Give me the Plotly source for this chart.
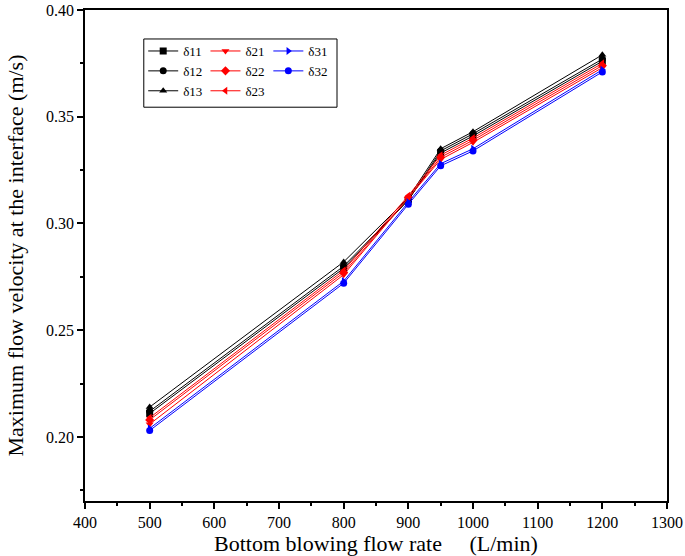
import plotly.graph_objects as go

flow = [500, 800, 900, 950, 1000, 1200]
d11 = [0.211, 0.279, 0.311, 0.333, 0.341, 0.376]
d12 = [0.212, 0.280, 0.311, 0.334, 0.342, 0.377]
d13 = [0.214, 0.282, 0.312, 0.335, 0.343, 0.379]
d21 = [0.206, 0.276, 0.312, 0.330, 0.338, 0.373]
d22 = [0.208, 0.277, 0.312, 0.331, 0.339, 0.374]
d23 = [0.209, 0.278, 0.313, 0.332, 0.340, 0.375]
d31 = [0.204, 0.273, 0.310, 0.328, 0.335, 0.372]
d32 = [0.203, 0.272, 0.309, 0.327, 0.334, 0.371]

series = [
    ("δ11", d11, "black", "square", "legend"),
    ("δ12", d12, "black", "circle", "legend"),
    ("δ13", d13, "black", "triangle-up", "legend"),
    ("δ21", d21, "red", "triangle-down", "legend2"),
    ("δ22", d22, "red", "diamond", "legend2"),
    ("δ23", d23, "red", "triangle-left", "legend2"),
    ("δ31", d31, "blue", "triangle-right", "legend3"),
    ("δ32", d32, "blue", "circle", "legend3"),
]

FONT = "Liberation Serif, Times New Roman, serif"
fig = go.Figure()
for name, ys, col, sym, lg in series:
    fig.add_trace(go.Scatter(
        x=flow, y=ys, name=name, mode="lines+markers",
        line=dict(color=col, width=1),
        marker=dict(symbol=sym, size=7, color=col),
        legend=lg,
    ))

leg_common = dict(font=dict(family=FONT, size=13, color="black"),
                  bgcolor="rgba(0,0,0,0)", tracegroupgap=0,
                  itemwidth=30, yanchor="top", xanchor="left")
fig.update_layout(
    width=685, height=556,
    margin=dict(l=85, r=18, t=10, b=55, autoexpand=False),
    paper_bgcolor="white", plot_bgcolor="white",
    font=dict(family=FONT, size=16, color="black"),
    legend=dict(x=0.1, y=0.947, **leg_common),
    legend2=dict(x=0.207, y=0.947, **leg_common),
    legend3=dict(x=0.315, y=0.947, **leg_common),
    xaxis=dict(
        title=dict(text="Bottom blowing flow rate\u3000 (L/min)", font=dict(family=FONT, size=22), standoff=4),
        range=[400, 1300], dtick=100, showgrid=False, zeroline=False, automargin=False,
        showline=True, linecolor="black", linewidth=1.5, mirror=True,
        ticks="outside", ticklen=6, tickwidth=1.5, tickcolor="black",
        minor=dict(ticks="outside", ticklen=3, dtick=50, tickcolor="black", tickwidth=1.5),
        tickfont=dict(family=FONT, size=16), ticklabeloverflow="allow",
    ),
    yaxis=dict(
        title=dict(text="Maximum flow velocity at the interface (m/s)", font=dict(family=FONT, size=22), standoff=16),
        range=[0.17, 0.40], dtick=0.05, tickformat=".2f", showgrid=False, zeroline=False, automargin=False,
        showline=True, linecolor="black", linewidth=1.5, mirror=True,
        ticks="outside", ticklen=6, tickwidth=1.5, tickcolor="black",
        minor=dict(ticks="outside", ticklen=3, dtick=0.025, tickcolor="black", tickwidth=1.5),
        tickfont=dict(family=FONT, size=16), ticklabeloverflow="allow",
    ),
)
fig.add_shape(type="rect", xref="paper", yref="paper", x0=0.101, x1=0.433, y0=0.802, y1=0.941,
              line=dict(color="black", width=1))
fig.write_html("out.html", config={"displayModeBar": False},
               post_script="document.body.style.margin='0';")
